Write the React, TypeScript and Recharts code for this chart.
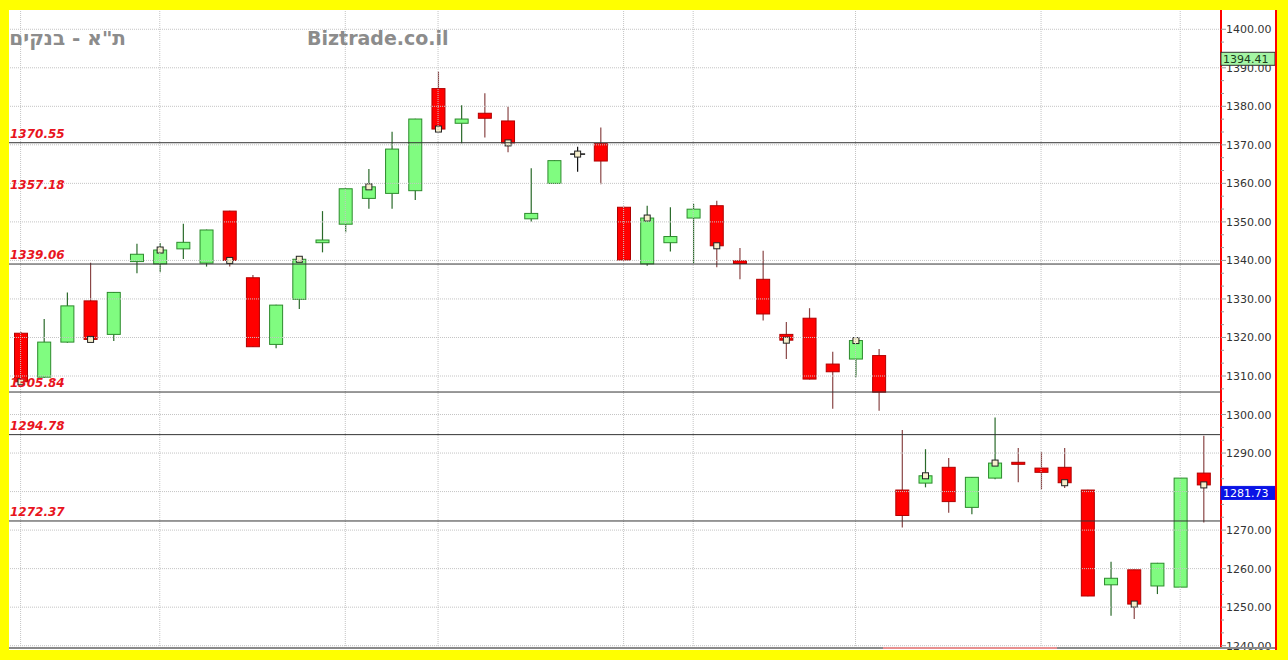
import React from 'react';
import { ComposedChart, Bar, XAxis, YAxis, ReferenceLine } from 'recharts';

// trading sessions, oldest first
const sessions = [
  's1', 's2', 's3', 's4', 's5', 's6', 's7', 's8', 's9', 's10',
  's11', 's12', 's13', 's14', 's15', 's16', 's17', 's18', 's19', 's20',
  's21', 's22', 's23', 's24', 's25', 's26', 's27', 's28', 's29', 's30',
  's31', 's32', 's33', 's34', 's35', 's36', 's37', 's38', 's39', 's40',
  's41', 's42', 's43', 's44', 's45', 's46', 's47', 's48', 's49', 's50',
  's51', 's52',
];

const opens = [
  1321.1, 1309.7, 1318.8, 1329.5, 1320.8, 1339.7, 1339.1, 1343.0, 1339.3, 1352.8,
  1335.5, 1318.2, 1329.9, 1344.6, 1349.4, 1356.1, 1357.4, 1358.1, 1384.6, 1375.6,
  1378.2, 1376.2, 1350.8, 1360.0, 1367.6, 1370.3, 1353.8, 1339.1, 1344.6, 1351.0,
  1354.2, 1339.9, 1335.1, 1320.8, 1325.0, 1313.1, 1314.4, 1315.3, 1280.4, 1282.2,
  1286.3, 1275.9, 1283.5, 1287.6, 1286.1, 1286.3, 1280.4, 1255.8, 1259.7, 1255.5,
  1255.2, 1284.8,
];
const highs = [
  1321.4, 1324.8, 1331.7, 1339.4, 1331.8, 1344.3, 1344.5, 1349.5, 1348.0, 1352.9,
  1336.2, 1328.5, 1340.5, 1352.8, 1358.7, 1363.7, 1373.4, 1376.8, 1389.0, 1380.3,
  1383.4, 1379.9, 1363.9, 1366.0, 1369.5, 1374.5, 1353.9, 1354.2, 1353.8, 1354.7,
  1355.5, 1343.2, 1342.5, 1324.0, 1327.6, 1316.3, 1319.4, 1317.0, 1296.0, 1291.0,
  1288.7, 1283.8, 1299.2, 1291.3, 1290.2, 1291.3, 1280.5, 1261.8, 1259.8, 1261.5,
  1283.6, 1294.5,
];
const lows = [
  1307.8, 1309.5, 1318.6, 1319.3, 1319.1, 1336.7, 1336.9, 1340.4, 1338.4, 1338.4,
  1317.5, 1317.2, 1327.4, 1342.1, 1347.3, 1353.4, 1353.4, 1355.7, 1373.8, 1370.4,
  1371.9, 1368.1, 1350.1, 1359.9, 1363.0, 1359.8, 1340.0, 1338.6, 1342.3, 1339.3,
  1338.2, 1335.1, 1324.4, 1314.4, 1309.1, 1301.5, 1309.7, 1301.0, 1270.7, 1281.1,
  1274.5, 1274.1, 1283.2, 1282.4, 1280.6, 1280.9, 1252.8, 1247.8, 1246.9, 1253.4,
  1255.1, 1272.0,
];
const closes = [
  1308.5, 1318.8, 1328.2, 1319.5, 1331.7, 1341.6, 1342.7, 1344.7, 1347.9, 1340.0,
  1317.6, 1328.4, 1340.3, 1345.3, 1358.6, 1359.1, 1368.9, 1376.7, 1374.1, 1376.7,
  1376.9, 1370.5, 1352.2, 1365.9, 1367.6, 1365.8, 1340.1, 1351.0, 1346.2, 1353.3,
  1343.8, 1339.2, 1326.1, 1319.3, 1309.2, 1311.1, 1319.2, 1305.8, 1273.8, 1284.1,
  1277.4, 1283.7, 1287.4, 1287.4, 1285.0, 1282.3, 1252.9, 1257.5, 1250.8, 1261.4,
  1283.5, 1281.73,
];

// support / resistance levels (1357.18 has a label only)
const levels = [1370.55, 1339.06, 1305.84, 1294.78, 1272.37];
const labelOnlyLevels = [1357.18];
const periodHigh = 1394.41;
const lastPrice = 1281.73;

const priceTicks = [1240, 1250, 1260, 1270, 1280, 1290, 1300, 1310, 1320, 1330, 1340, 1350, 1360, 1370, 1380, 1390, 1400];
const periodStarts = ['s1', 's7', 's15', 's19', 's27', 's30', 's37', 's45', 's51'];

const data = sessions.map((s, i) => ({
  s,
  open: opens[i],
  high: highs[i],
  low: lows[i],
  close: closes[i],
  range: [lows[i], highs[i]],
}));

const minorTicks: number[] = [];
priceTicks.slice(0, -1).forEach((t) => {
  minorTicks.push(t + 10 / 3, t + 20 / 3);
});
const allTicks = [...priceTicks, ...minorTicks].sort((a, b) => a - b);

const W = 1268;
const H = 640;
const MARGIN = { top: 0, right: 2, bottom: 2, left: 0 };
const DOMAIN: [number, number] = [1239.4, 1405.0];

const Candle = (props: any) => {
  const { x, y, width, height, payload, index } = props;
  if (!payload) return null;
  const { open, close, high, low } = payload;
  const top = Math.min(y, y + height);
  const h = Math.abs(height);
  const k = h / (high - low);
  const py = (v: number) => top + (high - v) * k;
  const cx = x + width / 2;
  const up = close > open;
  const flat = close === open;
  const fill = up ? '#80fc80' : '#ff0000';
  const edge = up ? '#2c8a2c' : '#b00000';
  const wick = flat ? '#111' : up ? '#2a6a2a' : '#8a4646';
  const bTop = py(Math.max(open, close));
  const bH = py(Math.min(open, close)) - bTop;
  const left = cx - 6.5;
  return (
    <g>
      <line x1={cx} x2={cx} y1={py(high)} y2={py(low)} stroke={wick} strokeWidth={1.2} />
      {flat ? (
        <line x1={left - 1} x2={left + 14} y1={bTop} y2={bTop} stroke="#111" strokeWidth={1.5} />
      ) : (
        <rect x={left} y={bTop} width={13} height={Math.max(bH, 2)} fill={fill} stroke={edge} strokeWidth={1} />
      )}
      {index % 3 === 0 && (
        <rect x={cx - 3} y={py(close) - 3} width={6} height={6} fill="#f6efcc" stroke="#222" strokeWidth={1} />
      )}
    </g>
  );
};

const LevelLabel = (props: any) => {
  const { viewBox, text } = props;
  return (
    <text
      x={viewBox.x + 1}
      y={viewBox.y - 5}
      fill="#e81420"
      fontSize={12}
      fontWeight="bold"
      fontStyle="italic"
      fontFamily="DejaVu Sans"
    >
      {text}
    </text>
  );
};

const PriceTag = (props: any) => {
  const { viewBox, text, bg, color, border } = props;
  const x0 = viewBox.x + viewBox.width;
  return (
    <g>
      <rect x={x0} y={viewBox.y + 1.5} width={54} height={13} fill={bg} stroke={border} strokeWidth={1} />
      <text x={x0 + 2} y={viewBox.y + 12} fill={color} fontSize={11} fontFamily="DejaVu Sans">
        {text}
      </text>
    </g>
  );
};

const PriceTick = (props: any) => {
  const { x, y, payload } = props;
  const v = payload.value;
  const major = Math.abs(v - Math.round(v / 10) * 10) < 0.01;
  const ax = x - 7;
  return (
    <g>
      <line x1={ax} x2={ax + (major ? 5 : 3)} y1={y} y2={y} stroke="#999" />
      {major && (
        <text x={ax + 5} y={y + 4} fill="#333" fontSize={11} fontFamily="DejaVu Sans">
          {v.toFixed(2)}
        </text>
      )}
    </g>
  );
};

const Nothing = () => null;

export default function App() {
  return (
    <div style={{ position: 'relative', width: 1288, height: 660, background: '#ffff00', overflow: 'hidden' }}>
      <style>{'body{margin:0}'}</style>
      <div style={{ position: 'absolute', left: 9, top: 10, width: W, height: H, background: '#fff' }} />
      <div style={{ position: 'absolute', left: 9, top: 10 }}>
        <ComposedChart width={W} height={H} data={data} margin={MARGIN}>
          <XAxis dataKey="s" hide padding={{ left: 0, right: 6 }} />
          <YAxis
            orientation="right"
            width={54}
            domain={DOMAIN}
            ticks={allTicks}
            interval={0}
            axisLine={{ stroke: '#ff0000', strokeWidth: 2 }}
            tickLine={false}
            tickSize={5}
            tickMargin={2}
            tick={<PriceTick />}
          />
          {priceTicks.map((t) => (
            <ReferenceLine key={'g' + t} y={t} stroke="#c4c4c4" strokeDasharray="1 1" />
          ))}
          {periodStarts.map((s) => (
            <ReferenceLine key={'v' + s} x={s} stroke="#c4c4c4" strokeDasharray="1 1" />
          ))}
          <Bar dataKey="range" barSize={14} shape={<Candle />} isAnimationActive={false} />
          {levels.map((l) => (
            <ReferenceLine key={'l' + l} y={l} stroke="#333" strokeWidth={1} label={<LevelLabel text={l.toFixed(2)} />} />
          ))}
          {labelOnlyLevels.map((l) => (
            <ReferenceLine key={'lo' + l} y={l} stroke="none" label={<LevelLabel text={l.toFixed(2)} />} />
          ))}
        </ComposedChart>
      </div>
      {/* price tags sit above the axis labels */}
      <div style={{ position: 'absolute', left: 9, top: 10 }}>
        <ComposedChart width={W} height={H} data={data} margin={MARGIN}>
          <XAxis dataKey="s" hide padding={{ left: 0, right: 6 }} />
          <YAxis orientation="right" width={54} domain={DOMAIN} ticks={priceTicks} tick={false} axisLine={false} tickLine={false} />
          <Bar dataKey="range" barSize={14} shape={<Nothing />} isAnimationActive={false} />
          <ReferenceLine
            y={periodHigh}
            stroke="none"
            label={<PriceTag text={periodHigh.toFixed(2)} bg="#a4f5a4" color="#1a3a1a" border="#333" />}
          />
          <ReferenceLine
            y={lastPrice}
            stroke="none"
            label={<PriceTag text={lastPrice.toFixed(2)} bg="#0a14e6" color="#fff" border="#0a14e6" />}
          />
        </ComposedChart>
      </div>
      <div style={{ position: 'absolute', left: 1275, top: 10, width: 2, height: 640, background: '#ff0000' }} />
      <div style={{ position: 'absolute', left: 9, top: 647, width: 1266, height: 2, background: '#8a8a8a' }} />
      <div style={{ position: 'absolute', left: 883, top: 647, width: 174, height: 2, background: '#e89090' }} />
      <div
        style={{
          position: 'absolute', left: 8, top: 26, width: 118, textAlign: 'right', direction: 'rtl',
          fontFamily: 'DejaVu Sans', fontWeight: 'bold', fontSize: 20, color: '#8c8c8c', whiteSpace: 'nowrap',
        }}
      >
        ת"א - בנקים
      </div>
      <div
        style={{
          position: 'absolute', left: 307, top: 27, fontFamily: 'DejaVu Sans', fontWeight: 'bold',
          fontSize: 19, color: '#8c8c8c', whiteSpace: 'nowrap',
        }}
      >
        Biztrade.co.il
      </div>
    </div>
  );
}
